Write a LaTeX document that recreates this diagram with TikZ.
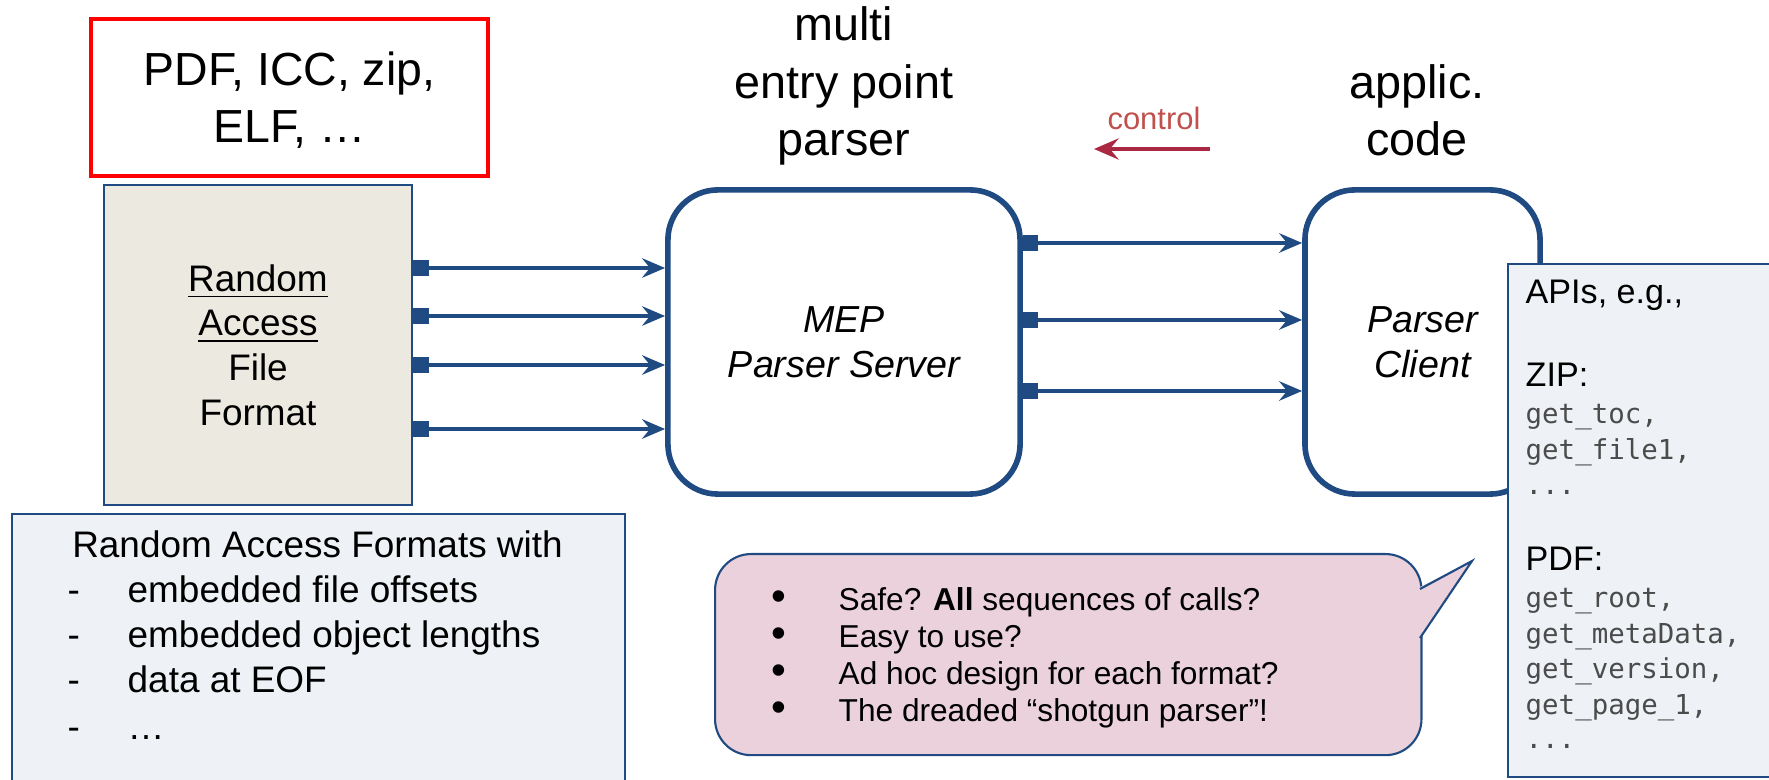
\documentclass[tikz,border=0pt]{standalone}
\usepackage{fontspec}
\setmainfont{Liberation Sans}
\setmonofont{DejaVu Sans Mono}
\usepackage{xcolor}
\usepackage{tikz}
\usetikzlibrary{arrows.meta,
calc
}
\definecolor{flowblue}{RGB}{32,75,130}
\definecolor{filebeige}{RGB}{236,234,224}
\definecolor{paleblue}{RGB}{238,242,246}
\definecolor{callpink}{RGB}{234,209,220}
\definecolor{ctrltext}{RGB}{192,80,77}
\definecolor{ctrlred}{RGB}{170,40,65}
\definecolor{codegray}{RGB}{75,75,75}
\tikzset{>={Stealth[length=6pt,width=5pt,inset=2pt]}}
\tikzset{
  flow/.style={draw=flowblue, line width=1.3pt, {Square[length=4.4pt,width=4.4pt]}-{Stealth[length=6.5pt,width=5.5pt,inset=2.2pt]}},
  parserbox/.style={draw=flowblue, line width=1.6pt, rounded corners=0.5cm, fill=white, align=center, font=\itshape\fontsize{10.7}{12.8}\selectfont},
  thinbox/.style={draw=flowblue, line width=0.6pt},
  heading/.style={align=center, font=\fontsize{13.3}{16.3}\selectfont},
  listtxt/.style={anchor=base west, inner sep=0pt, font=\fontsize{10.5}{12.5}\selectfont},
  bulletdot/.style={anchor=base, inner sep=0pt, font=\fontsize{12}{12}\selectfont},
  bullettxt/.style={anchor=base west, inner sep=0pt, font=\fontsize{9}{10.5}\selectfont},
  apitxt/.style={anchor=base west, inner sep=0pt, font=\fontsize{9.7}{11.5}\selectfont},
  codetxt/.style={anchor=base west, inner sep=0pt, text=codegray, font=\ttfamily\fontsize{7.8}{10}\selectfont}
}

\begin{document}
\begin{tikzpicture}[x=0.01cm, y=-0.01cm]
    \useasboundingbox (0,0) rectangle (1769,780);
    \clip (0,0) rectangle (1769,780);

    \node[draw=red, line width=1.1pt, minimum width=3.97cm, minimum height=1.57cm] (formats) at (289.5,97.5) {};
    \node[align=center, font=\fontsize{13.2}{16.2}\selectfont] (formatstxt) at (289.5,100) {PDF, ICC, zip,\\ELF, …};
    \node[thinbox, fill=filebeige, minimum width=3.08cm, minimum height=3.20cm, align=center, font=\fontsize{10.5}{12.7}\selectfont] (rafile) at (258,345) {\underline{Random}\\\underline{Access}\\File\\Format};

    \node[heading] (mepttl) at (844,86) {multi\\entry point\\parser};
    \node[heading] (appttl) at (1417,110) {applic.\\code};

    \node[parserbox, minimum width=3.52cm, minimum height=3.04cm] (mep) at (844,342) {MEP\\Parser Server};
    \node[parserbox, minimum width=2.35cm, minimum height=3.04cm] (client) at (1422.5,342) {Parser\\Client};

    \draw[flow] (rafile.east |- 0,268) -- (mep.west |- 0,268);
    \draw[flow] (rafile.east |- 0,316) -- (mep.west |- 0,316);
    \draw[flow] (rafile.east |- 0,365) -- (mep.west |- 0,365);
    \draw[flow] (rafile.east |- 0,429) -- (mep.west |- 0,429);

    \draw[flow] (mep.east |- 0,243) -- (client.west |- 0,243);
    \draw[flow] (mep.east |- 0,320) -- (client.west |- 0,320);
    \draw[flow] (mep.east |- 0,391) -- (client.west |- 0,391);

    \node[anchor=base, text=ctrltext, font=\fontsize{8.8}{10}\selectfont] (ctrl) at (1154,130) {control};
    \coordinate (ctrlfrom) at (1210,149);
    \coordinate (ctrlto) at (1094,149);
    \draw[ctrlred, line width=1.3pt, -{Stealth[length=7pt,width=6pt,inset=2.5pt]}] (ctrlfrom) -- (ctrlto);

    \node[thinbox, fill=paleblue, anchor=north west, minimum width=2.83cm, minimum height=5.13cm] (apibox) at (1507,263) {};
    \node[apitxt] (apihead) at (1525,304) {APIs, e.g.,};
    \node[apitxt] (zipname) at (1525,387) {ZIP:};
    \node[codetxt] (zipcalla) at (1525,424) {get\_toc,};
    \node[codetxt] (zipcallb) at (1525,460) {get\_file1,};
    \node[codetxt] (zipcallc) at (1525,495) {...};
    \node[apitxt] (pdfname) at (1525,571) {PDF:};
    \node[codetxt] (pdfcalla) at (1525,608) {get\_root,};
    \node[codetxt] (pdfcallb) at (1525,644) {get\_metaData,};
    \node[codetxt] (pdfcallc) at (1525,679) {get\_version,};
    \node[codetxt] (pdfcalld) at (1525,715) {get\_page\_1,};
    \node[codetxt] (pdfcalle) at (1525,749) {...};

    \node[thinbox, fill=paleblue, anchor=north west, minimum width=6.13cm, minimum height=2.90cm] (rafbox) at (11,513) {};
    \node[anchor=base, inner sep=0pt, font=\fontsize{10.5}{12.5}\selectfont] (raftitle) at (317.5,558) {Random Access Formats with};
    \node[listtxt] (dasha) at (67,603) {-};
    \node[listtxt] (itema) at (127,603) {embedded file offsets};
    \node[listtxt] (dashb) at (67,648) {-};
    \node[listtxt] (itemb) at (127,648) {embedded object lengths};
    \node[listtxt] (dashc) at (67,693) {-};
    \node[listtxt] (itemc) at (127,693) {data at EOF};
    \node[listtxt] (dashd) at (67,740) {-};
    \node[listtxt] (itemd) at (127,740) {…};

    \node[thinbox, fill=callpink, rounded corners=0.36cm, anchor=north west, minimum width=7.06cm, minimum height=2.01cm] (callout) at (714,553) {};
    \coordinate (spikeup) at (1420,589);
    \coordinate (spiketip) at (1472,561);
    \coordinate (spikelow) at (1420,638);
    \fill[callpink] ($(spikeup)+(-2,-1)$) -- (spiketip) -- ($(spikelow)+(-2,1)$) -- cycle;
    \draw[flowblue, line width=0.6pt] (spikeup) -- (spiketip) -- (spikelow);
    \node[bulletdot] (bula) at (779,611) {•};
    \node[bullettxt] (quesa) at (838,611) {Safe? \textbf{All} sequences of calls?};
    \node[bulletdot] (bulb) at (779,648) {•};
    \node[bullettxt] (quesb) at (838,648) {Easy to use?};
    \node[bulletdot] (bulc) at (779,685) {•};
    \node[bullettxt] (quesc) at (838,685) {Ad hoc design for each format?};
    \node[bulletdot] (buld) at (779,722) {•};
    \node[bullettxt] (quesd) at (838,722) {The dreaded “shotgun parser”!};
\end{tikzpicture}
\end{document}
